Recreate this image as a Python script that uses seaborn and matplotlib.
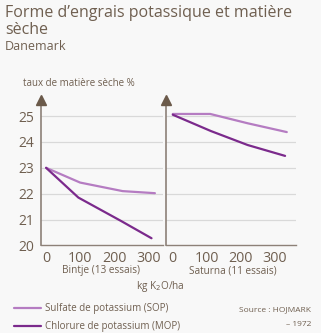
import matplotlib
matplotlib.use("Agg")
import matplotlib.pyplot as plt
import seaborn as sns
import pandas as pd

sns.set_theme(style="white")
plt.rcParams['font.family'] = ['Open Sans', 'DejaVu Sans']

# data
bintje_sop_x = [0, 100, 225, 320]
bintje_sop_y = [23.0, 22.43, 22.1, 22.02]
bintje_mop_x = [0, 95, 220, 310]
bintje_mop_y = [23.0, 21.85, 20.95, 20.28]
saturna_sop_x = [0, 110, 220, 335]
saturna_sop_y = [25.08, 25.08, 24.72, 24.38]
saturna_mop_x = [0, 112, 220, 330]
saturna_mop_y = [25.05, 24.42, 23.88, 23.46]
x_ticks = [0, 100, 200, 300]
y_ticks = [20, 21, 22, 23, 24, 25]
series_names = ["Sulfate de potassium (SOP)", "Chlorure de potassium (MOP)"]
panel_names = ["Bintje (13 essais)", "Saturna (11 essais)"]

SOP_C = "#b57cc2"
MOP_C = "#7b2a8c"
AX_C = "#8d8178"
ARROW_C = "#6b5a4a"
TXT_C = "#6f5f50"
BG = "#f8f8f8"

fig = plt.figure(figsize=(3.21, 3.33), dpi=100, facecolor=BG)

def mk(xs, ys, name):
    return pd.DataFrame({"x": xs, "y": ys, "s": name})

panels = [
    ([0.128, 0.2628, 0.380, 0.437], (-14.7, 344),
     pd.concat([mk(bintje_sop_x, bintje_sop_y, series_names[0]),
                mk(bintje_mop_x, bintje_mop_y, series_names[1])]), True),
    ([0.516, 0.2628, 0.406, 0.437], (-21, 362),
     pd.concat([mk(saturna_sop_x, saturna_sop_y, series_names[0]),
                mk(saturna_mop_x, saturna_mop_y, series_names[1])]), False),
]

axes = []
for rect, xl, df, showy in panels:
    ax = fig.add_axes(rect)
    ax.set_facecolor(BG)
    for yv in y_ticks[1:]:
        ax.axhline(yv, color="#d9d9d9", lw=0.9, zorder=0)
    sns.lineplot(data=df, x="x", y="y", hue="s", palette=[SOP_C, MOP_C],
                 ax=ax, legend=False, lw=1.6, zorder=3, sort=False)
    ax.set_xlim(*xl)
    ax.set_ylim(20, 25.62)
    ax.set_xticks(x_ticks)
    ax.set_yticks(y_ticks)
    ax.set_xlabel("")
    ax.set_ylabel("")
    for s in ["top", "right"]:
        ax.spines[s].set_visible(False)
    ax.spines["left"].set_color(AX_C)
    ax.spines["left"].set_linewidth(1.2)
    ax.spines["bottom"].set_color(AX_C)
    ax.spines["bottom"].set_linewidth(1.0)
    ax.tick_params(axis="x", length=0, labelsize=10.3, labelcolor=TXT_C, pad=4)
    if showy:
        ax.tick_params(axis="y", length=3, width=1, color=AX_C, labelsize=10,
                       labelcolor=TXT_C, pad=2)
    else:
        ax.tick_params(axis="y", length=0, labelleft=False)
    ax.plot([0], [1.0], marker="^", markersize=7.5, color=ARROW_C,
            transform=ax.transAxes, clip_on=False, zorder=5)
    axes.append(ax)

fig.text(0.015, 0.985, "Forme d\u2019engrais potassique et mati\u00e8re\ns\u00e8che",
         ha="left", va="top", fontsize=11.5, color=TXT_C, linespacing=1.12)
fig.text(0.015, 0.860, "Danemark", ha="left", va="center", fontsize=9, color=TXT_C)
fig.text(0.072, 0.748, "taux de mati\u00e8re s\u00e8che %", ha="left", va="center",
         fontsize=7, color=TXT_C)
fig.text(101/321, 1-271/333, panel_names[0], ha="center", va="center", fontsize=7.2, color=TXT_C)
fig.text(233/321, 1-271/333, panel_names[1], ha="center", va="center", fontsize=7.2, color=TXT_C)
fig.text(160/321, 1-286/333, "kg K$_2$O/ha", ha="center", va="center", fontsize=7.2, color=TXT_C)

for i, (name, col) in enumerate(zip(series_names, [SOP_C, MOP_C])):
    yy = 1 - (308 + 18*i)/333
    fig.add_artist(plt.Line2D([14/321, 41/321], [yy, yy], color=col, lw=1.6))
    fig.text(45/321, yy, name, ha="left", va="center", fontsize=7, color=TXT_C)

fig.text(311/321, 1-310/333, "Source : HOJMARK", ha="right", va="center", fontsize=6, color=TXT_C)
fig.text(311/321, 1-325/333, "\u2013 1972", ha="right", va="center", fontsize=6, color=TXT_C)

fig.savefig("out.png", dpi=100, facecolor=BG)
